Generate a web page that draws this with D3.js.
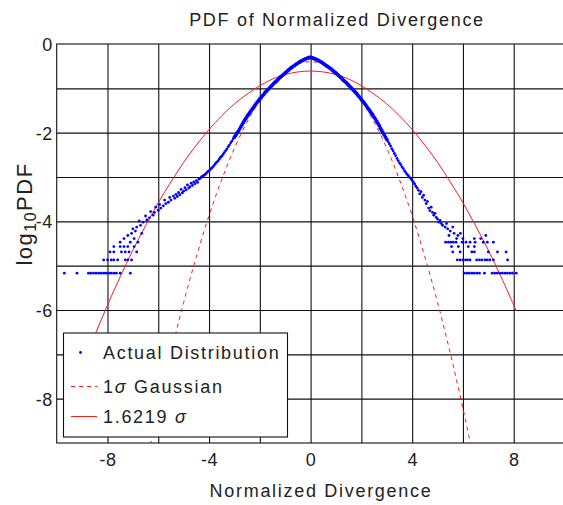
<!DOCTYPE html>
<html>
<head>
<meta charset="utf-8">
<script src="https://cdn.jsdelivr.net/npm/d3@7"></script>
<style>
  body { margin: 0; background: #fff; }
  svg text { font-family: "Liberation Sans", Arial, sans-serif; fill: #222; }
</style>
</head>
<body>
<div id="chart"></div>
<script>
// ==============================
// DATA
// ==============================

const titleText = "PDF of Normalized Divergence";
const xLabelText = "Normalized Divergence";

const xGridTicks = [-8, -6, -4, -2, 0, 2, 4, 6, 8];
const xTickLabels = [-8, -4, 0, 4, 8];
const yGridTicks = [-8, -7, -6, -5, -4, -3, -2, -1];
const yTickLabels = [0, -2, -4, -6, -8];

// central part of the measured distribution
const coreX = [
  -3.00, -2.95, -2.90, -2.85, -2.80, -2.75, -2.70, -2.65, -2.60, -2.55,
  -2.50, -2.45, -2.40, -2.35, -2.30, -2.25, -2.20, -2.15, -2.10, -2.05,
  -2.00, -1.95, -1.90, -1.85, -1.80, -1.75, -1.70, -1.65, -1.60, -1.55,
  -1.50, -1.45, -1.40, -1.35, -1.30, -1.25, -1.20, -1.15, -1.10, -1.05,
  -1.00, -0.95, -0.90, -0.85, -0.80, -0.75, -0.70, -0.65, -0.60, -0.55,
  -0.50, -0.45, -0.40, -0.35, -0.30, -0.25, -0.20, -0.15, -0.10, -0.05,
  0.00,
  0.05, 0.10, 0.15, 0.20, 0.25, 0.30, 0.35, 0.40, 0.45, 0.50,
  0.55, 0.60, 0.65, 0.70, 0.75, 0.80, 0.85, 0.90, 0.95, 1.00,
  1.05, 1.10, 1.15, 1.20, 1.25, 1.30, 1.35, 1.40, 1.45, 1.50,
  1.55, 1.60, 1.65, 1.70, 1.75, 1.80, 1.85, 1.90, 1.95, 2.00,
  2.05, 2.10, 2.15, 2.20, 2.25, 2.30, 2.35, 2.40, 2.45, 2.50,
  2.55, 2.60, 2.65, 2.70, 2.75, 2.80, 2.85, 2.90, 2.95, 3.00
];
const coreY = [
  -2.10, -2.06, -2.01, -1.97, -1.92, -1.87, -1.82, -1.77, -1.72, -1.68,
  -1.63, -1.59, -1.55, -1.51, -1.47, -1.43, -1.39, -1.35, -1.31, -1.28,
  -1.24, -1.21, -1.17, -1.14, -1.10, -1.07, -1.04, -1.01, -0.98, -0.95,
  -0.92, -0.89, -0.86, -0.84, -0.81, -0.78, -0.75, -0.73, -0.70, -0.68,
  -0.65, -0.63, -0.60, -0.58, -0.55, -0.53, -0.51, -0.49, -0.47, -0.45,
  -0.43, -0.41, -0.395, -0.38, -0.365, -0.35, -0.335, -0.325, -0.315, -0.305,
  -0.30,
  -0.31, -0.32, -0.33, -0.34, -0.355, -0.37, -0.385, -0.40, -0.42, -0.44,
  -0.46, -0.48, -0.50, -0.52, -0.54, -0.56, -0.585, -0.61, -0.635, -0.66,
  -0.685, -0.71, -0.735, -0.76, -0.79, -0.82, -0.845, -0.87, -0.90, -0.93,
  -0.96, -0.99, -1.02, -1.05, -1.08, -1.11, -1.145, -1.18, -1.215, -1.25,
  -1.29, -1.32, -1.36, -1.40, -1.44, -1.48, -1.52, -1.56, -1.60, -1.65,
  -1.69, -1.74, -1.79, -1.84, -1.90, -1.95, -2.00, -2.05, -2.10, -2.15
];

// scattered tails [x, log10 pdf]
const leftTail = [
  [-3.05, -2.14], [-3.1, -2.19], [-3.15, -2.23], [-3.2, -2.28], [-3.25, -2.32], [-3.3, -2.37],
  [-3.35, -2.41], [-3.4, -2.45], [-3.45, -2.49], [-3.5, -2.53], [-3.55, -2.56], [-3.6, -2.60],
  [-3.65, -2.64], [-3.7, -2.67], [-3.75, -2.70], [-3.8, -2.74], [-3.85, -2.77], [-3.9, -2.80],
  [-3.95, -2.83], [-4.0, -2.86], [-4.05, -2.88], [-4.1, -2.91], [-4.15, -2.94], [-4.2, -2.96],
  [-4.25, -2.98], [-4.3, -3.00], [-4.35, -3.03], [-4.4, -3.05], [-4.45, -3.12], [-4.5, -3.08],
  [-4.55, -3.15], [-4.6, -3.11], [-4.65, -3.19], [-4.7, -3.14], [-4.75, -3.22], [-4.8, -3.25],
  [-4.85, -3.18], [-4.9, -3.29], [-4.95, -3.24], [-5.0, -3.32], [-5.05, -3.36], [-5.1, -3.28],
  [-5.15, -3.40], [-5.2, -3.35], [-5.25, -3.44], [-5.3, -3.39], [-5.35, -3.48], [-5.4, -3.43],
  [-5.5, -3.52], [-5.55, -3.46], [-5.6, -3.57], [-5.7, -3.60], [-5.75, -3.52], [-5.8, -3.65],
  [-5.9, -3.70], [-5.95, -3.62], [-6.0, -3.75], [-6.1, -3.68], [-6.15, -3.80], [-6.2, -3.86],
  [-6.3, -3.78], [-6.35, -3.92], [-6.45, -3.97], [-6.5, -3.88], [-6.6, -4.02], [-6.7, -4.09],
  [-6.75, -3.99], [-6.85, -4.13], [-6.9, -4.22], [-7.0, -4.17], [-7.05, -4.27], [-7.2, -4.32],
  [-6.65, -4.27], [-6.95, -4.39], [-7.35, -4.39], [-7.1, -4.47], [-6.8, -4.47], [-7.5, -4.47]
];
const rightTail = [
  [3.05, -2.20], [3.1, -2.25], [3.15, -2.30], [3.2, -2.36], [3.25, -2.41], [3.3, -2.47],
  [3.35, -2.52], [3.4, -2.58], [3.45, -2.63], [3.5, -2.68], [3.55, -2.72], [3.6, -2.77],
  [3.65, -2.81], [3.7, -2.86], [3.75, -2.90], [3.8, -2.94], [3.85, -2.97], [3.9, -3.01],
  [3.95, -3.04], [4.0, -3.08], [4.05, -3.12], [4.1, -3.16], [4.15, -3.21], [4.2, -3.25],
  [4.25, -3.30], [4.3, -3.38], [4.35, -3.33], [4.4, -3.46], [4.45, -3.41], [4.5, -3.52],
  [4.55, -3.60], [4.6, -3.55], [4.65, -3.70], [4.7, -3.76], [4.75, -3.68], [4.8, -3.80],
  [4.85, -3.86], [4.9, -3.82], [4.95, -3.91], [5.0, -3.95], [5.05, -4.02], [5.1, -3.98],
  [5.15, -4.05], [5.2, -4.09], [5.3, -4.13], [5.35, -4.05], [5.4, -4.17], [5.5, -4.22],
  [5.6, -4.13], [5.65, -4.27], [5.8, -4.32], [5.9, -4.27], [6.0, -4.39], [6.45, -4.39],
  [6.7, -4.39], [6.9, -4.32], [5.75, -4.39], [5.45, -4.32]
];

// low-count levels (1..5 counts) and the x positions where they occur
const tailLevels = [-5.17, -4.87, -4.69, -4.57, -4.47];
const leftLevelX = [
  [-9.7, -9.2, -8.75, -8.65, -8.55, -8.45, -8.35, -8.25, -8.15, -8.05, -7.95, -7.85, -7.75, -7.65, -7.5, -7.1],
  [-8.15, -8.0, -7.85, -7.75, -7.6, -7.3, -7.2, -7.05],
  [-7.9, -7.75, -7.45, -7.3, -7.15, -6.85],
  [-7.75, -7.5, -7.35, -7.2, -6.95],
  []
];
const rightLevelX = [
  [6.05, 6.15, 6.25, 6.35, 6.45, 6.55, 6.65, 6.85, 7.15, 7.25, 7.35, 7.45, 7.55, 7.65, 7.75, 7.85, 7.95, 8.1],
  [5.78, 5.89, 6.0, 6.1, 6.18, 6.28, 6.54, 6.65, 6.75, 6.87, 6.96, 7.06, 7.2, 7.76],
  [5.6, 5.89, 6.35, 6.45, 7.0, 7.36, 7.7],
  [5.55, 5.82, 6.21, 6.45],
  [5.32, 5.43, 5.53, 5.62, 5.73, 5.97, 6.12, 6.28, 6.48, 6.8, 6.96, 7.2]
];

// 1 sigma Gaussian (dashed)
const gauss1X = [-6.5, -6, -5.5, -5, -4.5, -4, -3.5, -3, -2.5, -2, -1.5, -1, -0.5, 0,
                 0.5, 1, 1.5, 2, 2.5, 3, 3.5, 4, 4.5, 5, 5.5, 6, 6.5];
const gauss1Y = [-9.57, -8.22, -6.97, -5.83, -4.80, -3.87, -3.06, -2.35, -1.76, -1.27, -0.89, -0.62, -0.45, -0.40,
                 -0.45, -0.62, -0.89, -1.27, -1.76, -2.35, -3.06, -3.87, -4.80, -5.83, -6.97, -8.22, -9.57];

// 1.6219 sigma Gaussian (solid)
const gaussWX = [-9.7, -9.5, -9, -8.5, -8, -7.5, -7, -6.5, -6, -5.5, -5, -4.5, -4, -3.5, -3, -2.5, -2, -1.5, -1, -0.5, 0,
                 0.5, 1, 1.5, 2, 2.5, 3, 3.5, 4, 4.5, 5, 5.5, 6, 6.5, 7, 7.5, 8, 8.1];
const gaussWY = [-8.37, -8.06, -7.29, -6.57, -5.89, -5.25, -4.65, -4.10, -3.58, -3.11, -2.67, -2.28, -1.93, -1.62, -1.35, -1.13, -0.94, -0.79, -0.69, -0.63, -0.61,
                 -0.63, -0.69, -0.79, -0.94, -1.13, -1.35, -1.62, -1.93, -2.28, -2.67, -3.11, -3.58, -4.10, -4.65, -5.25, -5.89, -6.02];

// ==============================
// SVG
// ==============================

const W = 563, H = 505;
const FONT = 18, LS = 1.7;
const BLUE = "#0000ff", RED = "#ff1a1a";

const svg = d3.select("#chart").append("svg")
  .attr("width", W).attr("height", H)
  .style("display", "block");

svg.append("rect").attr("width", W).attr("height", H).attr("fill", "#fff");

const x = d3.scaleLinear().domain([-10, 10]).range([56.7, 564.5]);
const y = d3.scaleLinear().domain([-9, 0]).range([443, 44]);
const plotW = x(10) - x(-10), plotH = y(-9) - y(0);

svg.append("clipPath").attr("id", "clip")
  .append("rect").attr("x", x(-10)).attr("y", y(0)).attr("width", plotW).attr("height", plotH);

// grid
const gx = svg.append("g")
  .attr("transform", `translate(0,${y(-9)})`)
  .call(d3.axisBottom(x).tickValues(xGridTicks).tickSize(-plotH).tickFormat(""));
const gy = svg.append("g")
  .attr("transform", `translate(${x(-10)},0)`)
  .call(d3.axisLeft(y).tickValues(yGridTicks).tickSize(-plotW).tickFormat(""));
[gx, gy].forEach(g => {
  g.select(".domain").remove();
  g.selectAll("line").attr("stroke", "#111").attr("stroke-width", 1.1);
});

// box
svg.append("rect")
  .attr("x", x(-10)).attr("y", y(0)).attr("width", plotW).attr("height", plotH)
  .attr("fill", "none").attr("stroke", "#111").attr("stroke-width", 1.1);

// tick labels (plain hyphen minus, as in the original)
const lx = svg.append("g")
  .attr("transform", `translate(0,${y(-9)})`)
  .call(d3.axisBottom(x).tickValues(xTickLabels).tickSize(0).tickPadding(10).tickFormat(d => String(d)));
const ly = svg.append("g")
  .attr("transform", `translate(${x(-10)},0)`)
  .call(d3.axisLeft(y).tickValues(yTickLabels).tickSize(0).tickPadding(4).tickFormat(d => String(d)));
[lx, ly].forEach(g => {
  g.select(".domain").remove();
  g.attr("font-family", null).attr("font-size", null);
  g.selectAll("text").attr("font-size", FONT).attr("fill", "#222").style("letter-spacing", "0.5px");
});
ly.selectAll("text").attr("dy", "0.36em");

// curves
const plot = svg.append("g").attr("clip-path", "url(#clip)");
const line = d3.line().x(d => x(d[0])).y(d => y(d[1])).curve(d3.curveCatmullRom);

plot.append("path")
  .datum(gaussWX.map((v, i) => [v, gaussWY[i]]))
  .attr("d", line).attr("fill", "none")
  .attr("stroke", RED).attr("stroke-width", 1);

plot.append("path")
  .datum(gauss1X.map((v, i) => [v, gauss1Y[i]]))
  .attr("d", line).attr("fill", "none")
  .attr("stroke", RED).attr("stroke-width", 1)
  .attr("stroke-dasharray", "4,4");

// measured points
const corePts = coreX.map((v, i) => [v, coreY[i]]);
const tailPts = leftTail.concat(rightTail);
tailLevels.forEach((lv, k) => {
  leftLevelX[k].forEach(v => tailPts.push([v, lv]));
  rightLevelX[k].forEach(v => tailPts.push([v, lv]));
});

plot.selectAll("circle.core")
  .data(corePts)
  .join("circle")
  .attr("class", "core")
  .attr("cx", d => x(d[0]))
  .attr("cy", d => y(d[1]))
  .attr("r", 1.9)
  .attr("fill", BLUE);

plot.selectAll("circle.tail")
  .data(tailPts)
  .join("circle")
  .attr("class", "tail")
  .attr("cx", d => x(d[0]))
  .attr("cy", d => y(d[1]))
  .attr("r", 1.4)
  .attr("fill", BLUE);

// title and axis labels
svg.append("text")
  .attr("x", 337).attr("y", 26)
  .attr("text-anchor", "middle")
  .attr("font-size", FONT).style("letter-spacing", LS + "px")
  .text(titleText);

svg.append("text")
  .attr("x", 321).attr("y", 497)
  .attr("text-anchor", "middle")
  .attr("font-size", FONT).style("letter-spacing", LS + "px")
  .text(xLabelText);

const yl = svg.append("text")
  .attr("transform", "translate(32,214) rotate(-90)")
  .attr("text-anchor", "middle")
  .attr("font-size", 22).style("letter-spacing", "1.5px");
yl.append("tspan").text("log");
yl.append("tspan").attr("font-size", 16).attr("dy", 4).text("10");
yl.append("tspan").attr("dy", -4).text("PDF");

// legend
const leg = svg.append("g");
leg.append("rect")
  .attr("x", 63.5).attr("y", 333).attr("width", 224).attr("height", 104)
  .attr("fill", "#fff").attr("stroke", "#111").attr("stroke-width", 1.1);

leg.append("circle").attr("cx", 80.5).attr("cy", 352.5).attr("r", 1.4).attr("fill", BLUE);
leg.append("line").attr("x1", 71).attr("x2", 97).attr("y1", 386.5).attr("y2", 386.5)
  .attr("stroke", RED).attr("stroke-dasharray", "4,4");
leg.append("line").attr("x1", 71).attr("x2", 97).attr("y1", 416.5).attr("y2", 416.5)
  .attr("stroke", RED);

const legText = (yy) => leg.append("text").attr("x", 103).attr("y", yy)
  .attr("font-size", FONT).style("letter-spacing", LS + "px");

legText(359).text("Actual Distribution");
const t2 = legText(393);
t2.append("tspan").text("1");
t2.append("tspan").attr("font-style", "italic").text("σ");
t2.append("tspan").text(" Gaussian");
const t3 = legText(423);
t3.append("tspan").text("1.6219 ");
t3.append("tspan").attr("font-style", "italic").text("σ");
</script>
</body>
</html>
